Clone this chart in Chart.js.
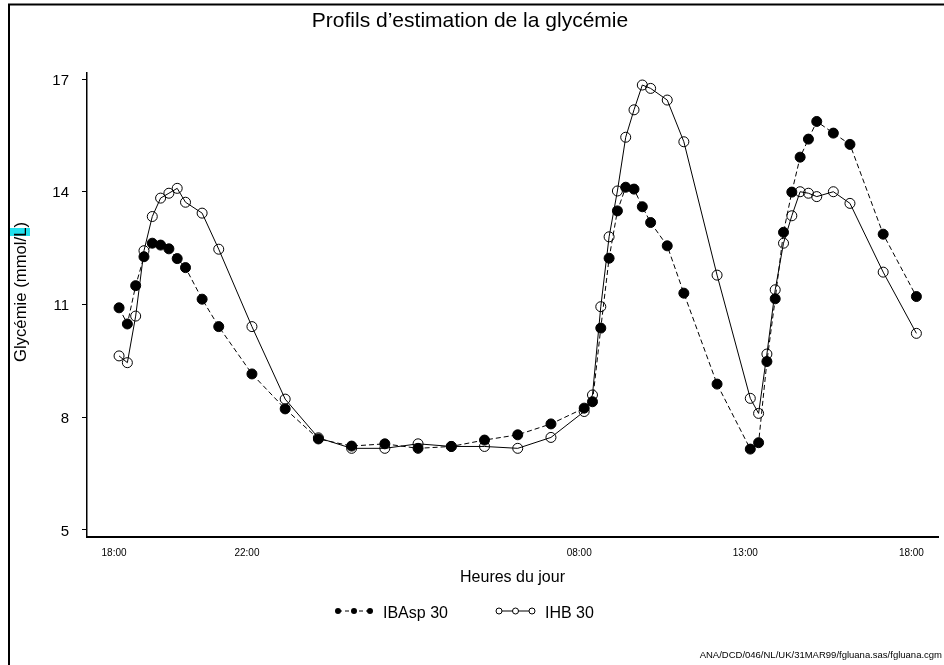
<!DOCTYPE html>
<html><head><meta charset="utf-8">
<script src="https://cdn.jsdelivr.net/npm/chart.js@4/dist/chart.umd.min.js"></script>
<style>html,body{margin:0;padding:0;background:#fff;} canvas{display:block;}</style>
</head><body>
<canvas id="c" width="944" height="665"></canvas>
<script>
// Hours elapsed since 18:00 (day 1)
const hours = [0,0.25,0.5,0.75,1,1.25,1.5,1.75,2,2.5,3,4,5,6,7,8,9,10,11,12,13,14,14.25,14.5,14.75,15,15.25,15.5,15.75,16,16.5,17,18,19,19.25,19.5,19.75,20,20.25,20.5,20.75,21,21.5,22,23,24];
const ibasp = [10.91,10.48,11.50,12.27,12.63,12.58,12.48,12.22,11.98,11.14,10.41,9.15,8.22,7.42,7.23,7.29,7.17,7.22,7.39,7.53,7.82,8.24,8.41,10.37,12.23,13.49,14.12,14.07,13.60,13.18,12.56,11.30,8.88,7.15,7.32,9.48,11.15,12.92,13.99,14.92,15.40,15.87,15.56,15.26,12.87,11.21];
const ihb = [9.63,9.45,10.69,12.43,13.34,13.83,13.96,14.09,13.72,13.43,12.47,10.41,8.48,7.45,7.17,7.17,7.29,7.22,7.22,7.17,7.46,8.15,8.59,10.94,12.80,14.02,15.45,16.18,16.84,16.75,16.44,15.33,11.78,8.50,8.10,9.68,11.39,12.63,13.36,14.00,13.96,13.87,14.00,13.69,11.86,10.23];
const xTickHours = [0,4,14,19,24];
const xTickLabels = ['18:00','22:00','08:00','13:00','18:00'];
const yTicks = [5,8,11,14,17];
const seriesNames = ['IBAsp 30','IHB 30'];
const titleText = 'Profils d\u2019estimation de la glycémie';
const xTitle = 'Heures du jour';
const yTitle = 'Glycémie (mmol/L)';
const footer = 'ANA/DCD/046/NL/UK/31MAR99/fgluana.sas/fgluana.cgm';

const FONT = '"Liberation Sans", Arial, Helvetica, sans-serif';

const deco = {
  id: 'deco',
  beforeDraw(chart) {
    const ctx = chart.ctx;
    ctx.save();
    ctx.fillStyle = '#fff';
    ctx.fillRect(0, 0, chart.width, chart.height);
    ctx.restore();
  },
  afterDraw(chart) {
    const ctx = chart.ctx;
    const ca = chart.chartArea;
    ctx.save();
    // frame
    ctx.strokeStyle = '#000';
    ctx.lineWidth = 2;
    ctx.beginPath();
    ctx.moveTo(9, 665); ctx.lineTo(9, 4.5); ctx.lineTo(944, 4.5);
    ctx.stroke();
    // title
    ctx.fillStyle = '#000';
    ctx.font = '21px ' + FONT;
    ctx.textAlign = 'center';
    ctx.textBaseline = 'middle';
    ctx.fillText(titleText, 470, 21);
    // x title
    ctx.font = '16px ' + FONT;
    ctx.fillText(xTitle, (ca.left + ca.right) / 2, 578);
    // y title with highlight
    ctx.fillStyle = '#22e0ee';
    ctx.fillRect(10, 228, 20, 8);
    ctx.fillStyle = '#000';
    ctx.translate(21.5, 292);
    ctx.rotate(-Math.PI / 2);
    ctx.font = '16.7px ' + FONT;
    ctx.textAlign = 'center';
    ctx.textBaseline = 'middle';
    ctx.fillText(yTitle, 0, 0);
    ctx.setTransform(1, 0, 0, 1, 0, 0);
    // legend
    const ly = 611;
    ctx.lineWidth = 1;
    ctx.strokeStyle = '#000';
    ctx.setLineDash([4, 3]);
    ctx.beginPath(); ctx.moveTo(338, ly); ctx.lineTo(370, ly); ctx.stroke();
    ctx.setLineDash([]);
    [338, 354, 370].forEach(x => { ctx.beginPath(); ctx.arc(x, ly, 3, 0, Math.PI * 2); ctx.fillStyle = '#000'; ctx.fill(); });
    ctx.beginPath(); ctx.moveTo(499, ly); ctx.lineTo(532, ly); ctx.stroke();
    [499, 515.5, 532].forEach(x => { ctx.beginPath(); ctx.arc(x, ly, 3, 0, Math.PI * 2); ctx.fillStyle = '#fff'; ctx.fill(); ctx.stroke(); });
    ctx.fillStyle = '#000';
    ctx.font = '16px ' + FONT;
    ctx.textAlign = 'left';
    ctx.textBaseline = 'middle';
    ctx.fillText(seriesNames[0], 383, 614);
    ctx.fillText(seriesNames[1], 545, 614);
    // footer
    ctx.font = '9.5px ' + FONT;
    ctx.textAlign = 'right';
    ctx.fillText(footer, 942, 655);
    ctx.restore();
  }
};

new Chart(document.getElementById('c'), {
  type: 'line',
  data: {
    datasets: [
      {
        label: seriesNames[1],
        data: hours.map((h, i) => ({ x: h, y: ihb[i] })),
        borderColor: '#000', borderWidth: 1, tension: 0,
        pointRadius: 5, pointBorderWidth: 1, pointBorderColor: '#000',
        pointBackgroundColor: 'rgba(0,0,0,0)', fill: false, order: 0
      },
      {
        label: seriesNames[0],
        data: hours.map((h, i) => ({ x: h, y: ibasp[i] })),
        borderColor: '#000', borderWidth: 1, borderDash: [5, 3], tension: 0,
        pointRadius: 5, pointBorderWidth: 1, pointBorderColor: '#000',
        pointBackgroundColor: '#000', fill: false, order: 1
      }
    ]
  },
  options: {
    responsive: false, animation: false, devicePixelRatio: 1,
    layout: { padding: { top: 73, left: 0, right: 0, bottom: 0 } },
    plugins: { legend: { display: false }, title: { display: false }, tooltip: { enabled: false } },
    scales: {
      x: {
        type: 'linear', min: -0.965, max: 24.65,
        afterBuildTicks: s => { s.ticks = xTickHours.map(v => ({ value: v })); },
        afterFit: s => { s.height = 128; },
        grid: { display: false, drawTicks: false },
        border: { display: true, color: '#000', width: 2 },
        ticks: {
          autoSkip: false, maxRotation: 0, padding: 10, labelOffset: -5, color: '#000',
          font: { family: FONT, size: 10 },
          callback: (v) => xTickLabels[xTickHours.indexOf(v)]
        }
      },
      y: {
        type: 'linear', min: 4.81, max: 17.16,
        afterBuildTicks: s => { s.ticks = yTicks.map(v => ({ value: v })); },
        afterFit: s => { s.width = 87; },
        grid: { display: true, drawOnChartArea: false, drawTicks: true, tickLength: 5, color: '#000', lineWidth: 1 },
        border: { display: true, color: '#000', width: 1.5 },
        ticks: {
          padding: 13, labelOffset: 1.5, color: '#000', font: { family: FONT, size: 15 },
          callback: (v) => String(v)
        }
      }
    }
  },
  plugins: [deco]
});
</script>
</body></html>
